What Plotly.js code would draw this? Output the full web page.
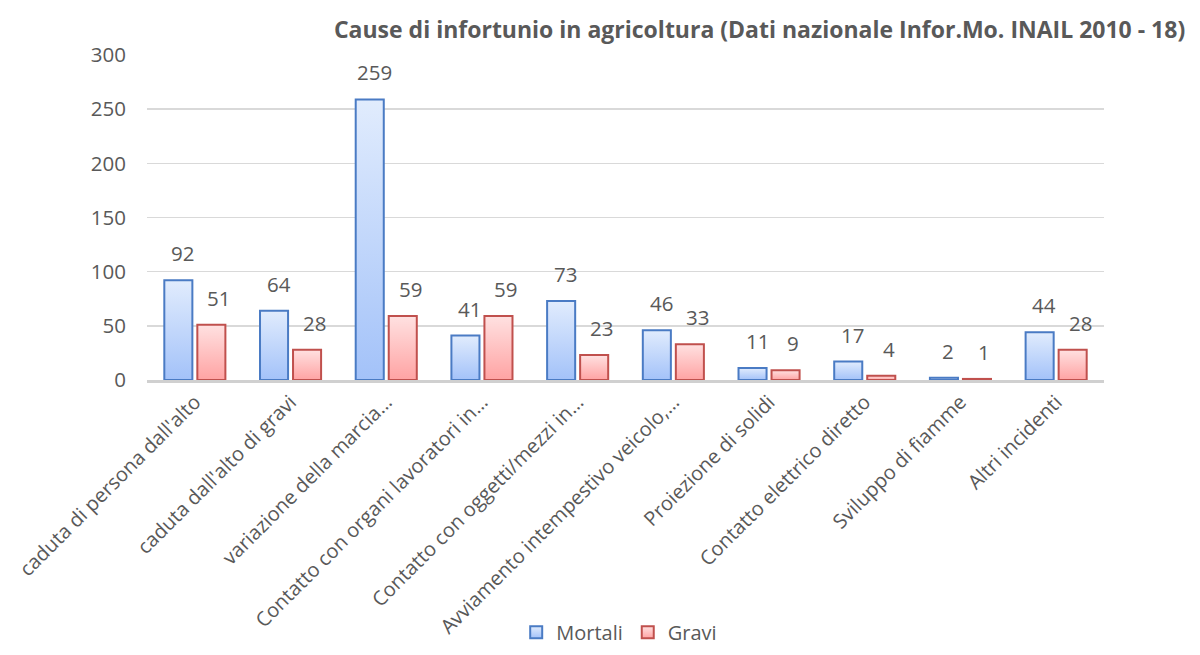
<!DOCTYPE html>
<html>
<head>
<meta charset="utf-8">
<script src="https://cdn.plot.ly/plotly-3.0.1.min.js"></script>
<style>html,body{margin:0;padding:0;background:#fff}#chart{width:1200px;height:655px}</style>
</head>
<body>
<div id="chart"></div>
<script>
const categories = [
  "caduta di persona dall'alto",
  "caduta dall'alto di gravi",
  "variazione della marcia…",
  "Contatto con organi lavoratori in…",
  "Contatto con oggetti/mezzi in…",
  "Avviamento intempestivo veicolo,…",
  "Proiezione di solidi",
  "Contatto elettrico diretto",
  "Sviluppo di fiamme",
  "Altri incidenti"
];
const mortali = [92, 64, 259, 41, 73, 46, 11, 17, 2, 44];
const gravi = [51, 28, 59, 59, 23, 33, 9, 4, 1, 28];
const seriesNames = ["Mortali", "Gravi"];
const yTicks = [0, 50, 100, 150, 200, 250, 300];

const gray = '#595959';
const font = 'Open Sans, Calibri, sans-serif';

const traces = [
  {type:'bar', name:seriesNames[0], x:categories, y:mortali,
   marker:{color:'#c2d7fb', line:{color:'#4a7bc4', width:2}}},
  {type:'bar', name:seriesNames[1], x:categories, y:gravi,
   marker:{color:'#ffc4c4', line:{color:'#c0504d', width:2}}}
];

const annotations = [];
[mortali, gravi].forEach(function(vals, s){
  vals.forEach(function(v, i){
    annotations.push({x:categories[i], y:v, xref:'x', yref:'y', text:String(v), showarrow:false,
      xanchor:'center', yanchor:'middle', xshift: s===0 ? -12 : 24, yshift:27,
      font:{family:font, size:20.5, color:gray}});
  });
});

const layout = {
  width:1200, height:655,
  margin:{l:147, r:96, t:55, b:275},
  paper_bgcolor:'#fff', plot_bgcolor:'#fff',
  font:{family:font, color:gray, size:20.5},
  title:{text:'<b>Cause di infortunio in agricoltura (Dati nazionale Infor.Mo. INAIL 2010 - 18)</b>',
    x:0.633, xref:'container', xanchor:'center', y:0.954, yref:'container', yanchor:'middle',
    font:{family:font, size:23, color:gray}},
  barmode:'group', bargap:0.31, bargroupgap:0.15,
  xaxis:{type:'category', tickangle:-45, tickfont:{family:font, size:20, color:gray},
    showgrid:false, showline:true, linecolor:'#d0d0d0', linewidth:2.5, ticks:'', automargin:false},
  yaxis:{range:[0,300], tickvals:yTicks, ticktext:yTicks.map(String), showgrid:true, gridcolor:'#d9d9d9', gridwidth:1.5,
    zeroline:false, showline:false, ticks:'', ticklabelstandoff:20,
    tickfont:{family:font, size:20.5, color:gray}, automargin:false},
  annotations: annotations,
  showlegend:true,
  legend:{orientation:'h', xref:'container', yref:'container', x:0.516, xanchor:'center', y:0.005, yanchor:'bottom',
    font:{family:font, size:20, color:gray}, itemwidth:30, traceorder:'normal'}
};

Plotly.newPlot('chart', traces, layout, {staticPlot:true, displayModeBar:false}).then(function(gd){
  const svg = gd.querySelector('svg.main-svg');
  const ns = 'http://www.w3.org/2000/svg';
  let defs = svg.querySelector('defs');
  if(!defs){defs = document.createElementNS(ns,'defs'); svg.insertBefore(defs, svg.firstChild);}
  function grad(id, top, bottom){
    const g = document.createElementNS(ns,'linearGradient');
    g.setAttribute('id', id); g.setAttribute('x1','0'); g.setAttribute('y1','0'); g.setAttribute('x2','0'); g.setAttribute('y2','1');
    const s1 = document.createElementNS(ns,'stop'); s1.setAttribute('offset','0'); s1.setAttribute('stop-color', top);
    const s2 = document.createElementNS(ns,'stop'); s2.setAttribute('offset','1'); s2.setAttribute('stop-color', bottom);
    g.appendChild(s1); g.appendChild(s2); defs.appendChild(g);
  }
  grad('gBlue', '#e1ecfd', '#a3c2f9');
  grad('gRed', '#ffe1e1', '#ffa3a3');
  const ids = ['gBlue','gRed'];
  gd.querySelectorAll('.barlayer .trace.bars').forEach(function(tr, i){
    tr.querySelectorAll('path').forEach(function(p){ p.style.fill = 'url(#'+ids[i]+')'; });
  });
  gd.querySelectorAll('.legend .traces').forEach(function(tr, i){
    tr.querySelectorAll('.legendpoints path').forEach(function(p){ p.style.fill = 'url(#'+ids[i]+')'; });
  });
});
</script>
</body>
</html>
